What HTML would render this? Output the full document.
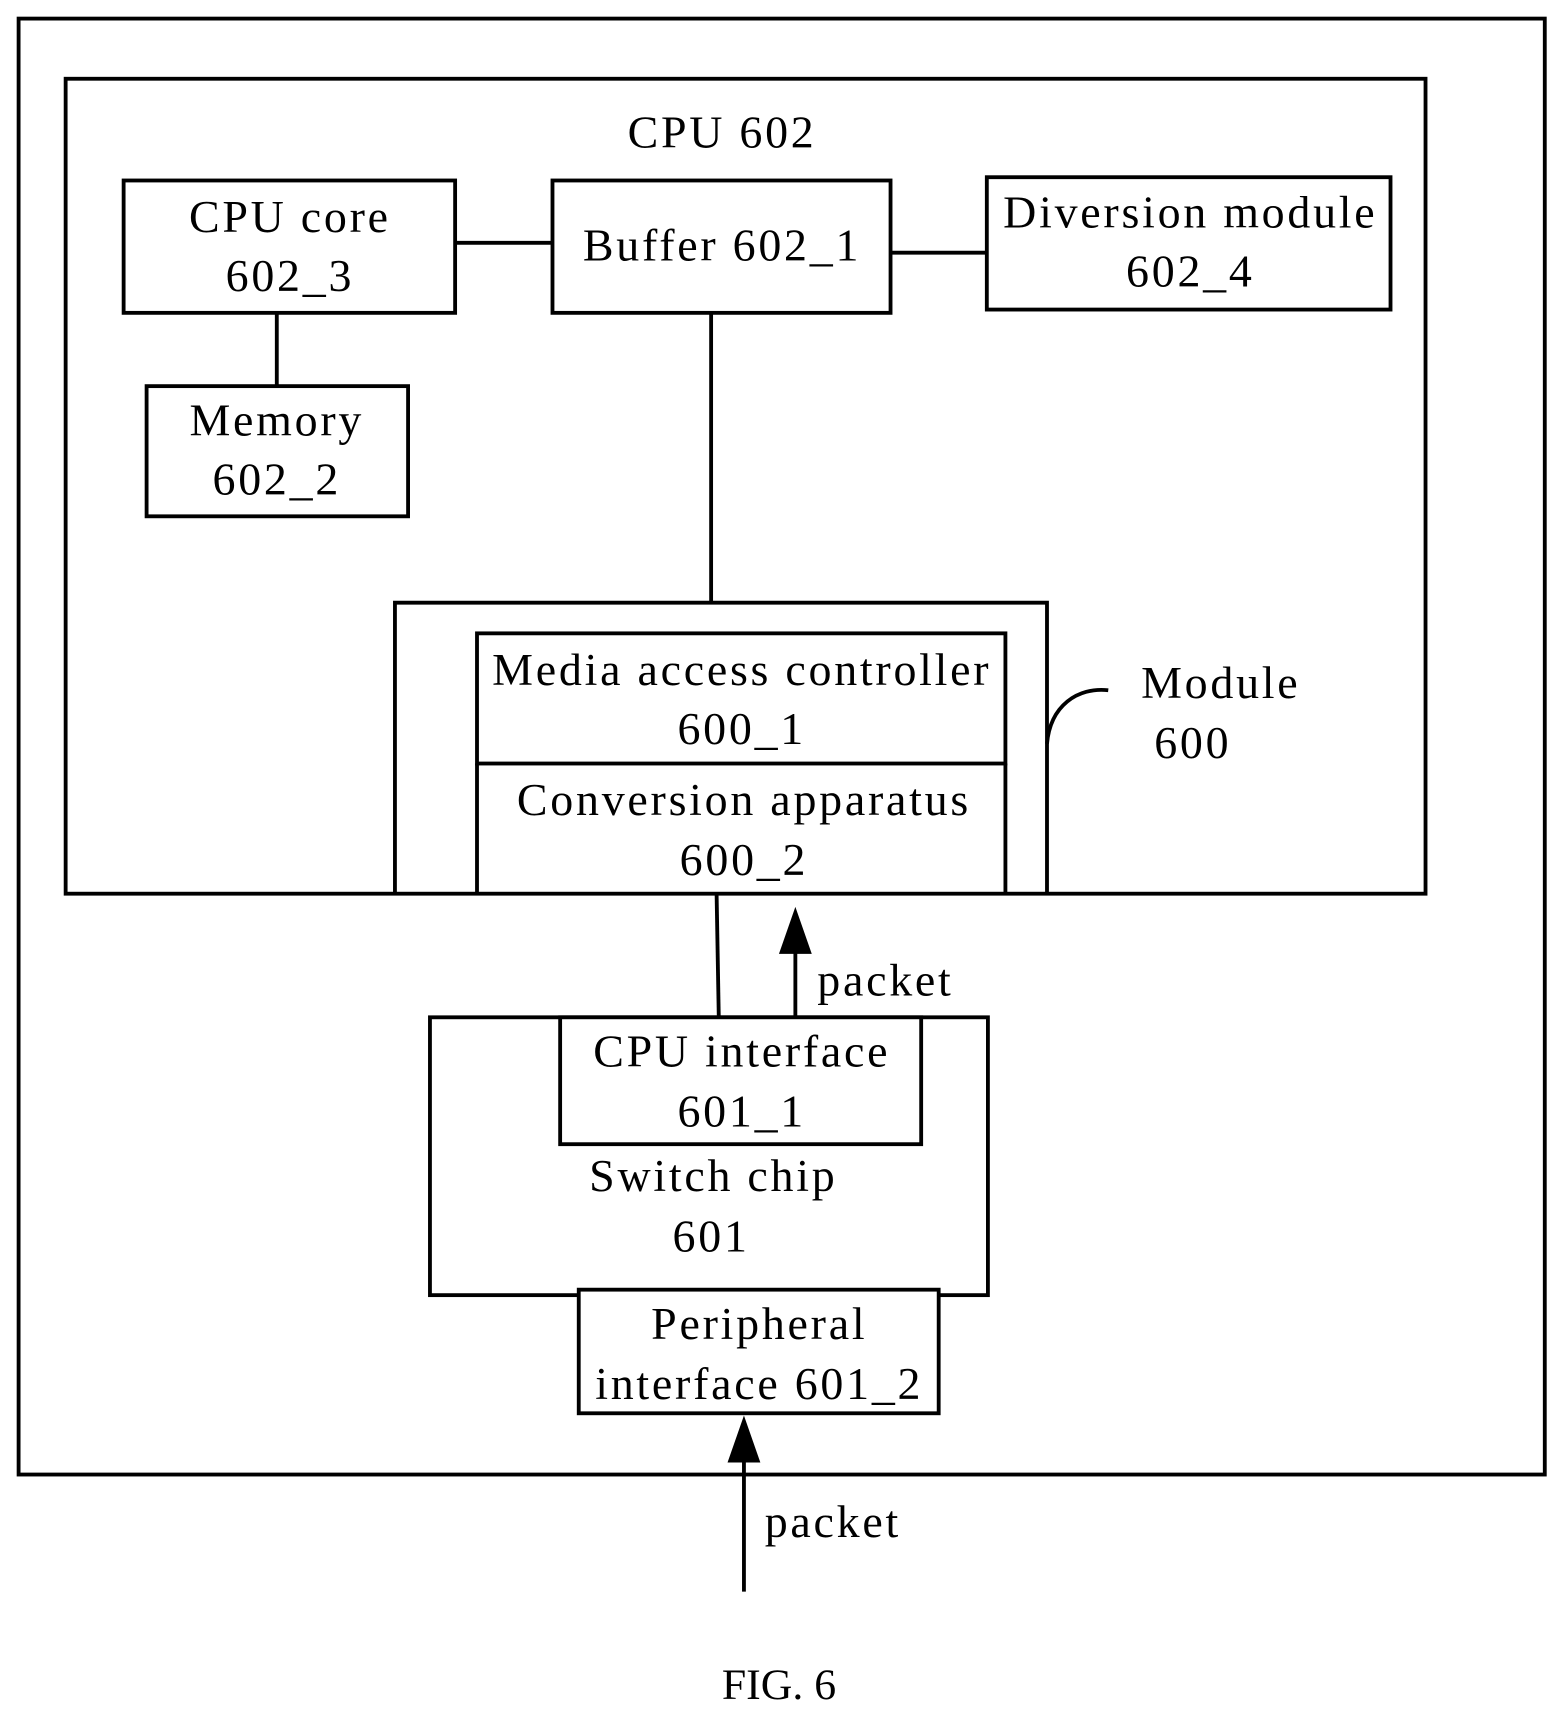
<!DOCTYPE html>
<html><head><style>html,body{margin:0;padding:0;background:#fff}svg{display:block}</style></head><body>
<svg width="1559" height="1713" viewBox="0 0 1425 1566" preserveAspectRatio="none" xmlns="http://www.w3.org/2000/svg">
<g fill="none" stroke="#000" stroke-width="3.5">
<rect x="17" y="17" width="1395" height="1331"/>
<rect x="60" y="72" width="1243" height="745"/>
<rect x="113" y="165" width="303" height="121"/>
<rect x="505" y="165" width="309" height="121"/>
<rect x="902" y="162" width="369" height="121"/>
<rect x="134" y="353" width="239" height="119"/>
<line x1="416" y1="222" x2="505" y2="222"/>
<line x1="814" y1="231" x2="902" y2="231"/>
<line x1="253" y1="286" x2="253" y2="353"/>
<line x1="650" y1="286" x2="650" y2="551"/>
<polyline points="361,817 361,551 957,551 957,817"/>
<rect x="436" y="579" width="483" height="119"/>
<line x1="436" y1="698" x2="436" y2="817"/>
<line x1="919" y1="698" x2="919" y2="817"/>
<path d="M957,680 C960,645 985,628 1013,631"/>
<line x1="655" y1="817" x2="657" y2="930"/>
<line x1="727" y1="865" x2="727" y2="930"/>
<rect x="393" y="930" width="510" height="254"/>
<rect x="512" y="930" width="330" height="116" fill="#fff"/>
<rect x="529" y="1179" width="329" height="113" fill="#fff"/>
<line x1="680" y1="1330" x2="680" y2="1455"/>
</g>
<polygon points="727,829 712,872 742,872" fill="#000"/>
<polygon points="680,1294 665,1337 695,1337" fill="#000"/>
<g font-family="Liberation Serif, serif" font-size="42" fill="#000" text-anchor="middle" letter-spacing="2.5">
<text x="660" y="135">CPU 602</text>
<text x="265" y="212">CPU core</text>
<text x="265" y="266">602_3</text>
<text x="660" y="238">Buffer 602_1</text>
<text x="1088" y="208">Diversion module</text>
<text x="1088" y="262">602_4</text>
<text x="253" y="398">Memory</text>
<text x="253" y="452">602_2</text>
<text x="678" y="626">Media access controller</text>
<text x="678" y="680">600_1</text>
<text x="680" y="745">Conversion apparatus</text>
<text x="680" y="800">600_2</text>
<text x="1043" y="638" text-anchor="start">Module</text>
<text x="1055" y="693" text-anchor="start">600</text>
<text x="747" y="910" text-anchor="start">packet</text>
<text x="678" y="975">CPU interface</text>
<text x="678" y="1030">601_1</text>
<text x="652" y="1089">Switch chip</text>
<text x="650" y="1144">601</text>
<text x="694" y="1224">Peripheral</text>
<text x="694" y="1279">interface 601_2</text>
<text x="699" y="1405" text-anchor="start">packet</text>
<text x="712" y="1553" font-size="40" letter-spacing="0">FIG. 6</text>
</g>
</svg>
</body></html>
